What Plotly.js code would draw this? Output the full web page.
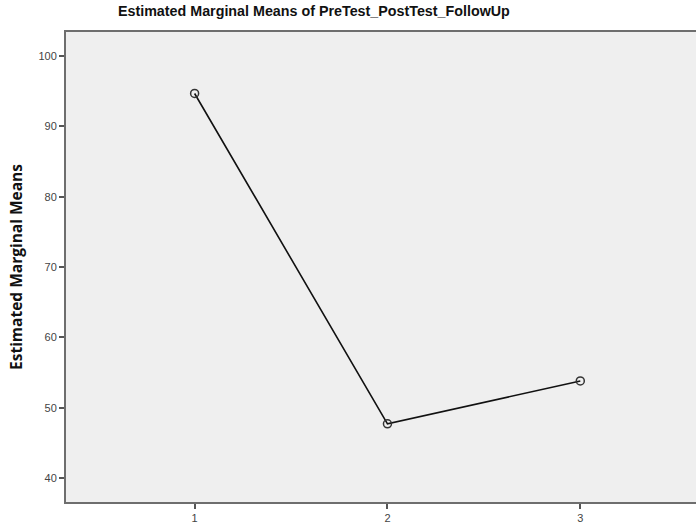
<!DOCTYPE html>
<html>
<head>
<meta charset="utf-8">
<script src="https://cdn.plot.ly/plotly-3.0.1.min.js"></script>
<style>html,body{margin:0;padding:0;background:#fff;}#chart{width:696px;height:523px;}</style>
</head>
<body>
<div id="chart"></div>
<script>
var levels = [1, 2, 3];
var means = [94.67, 47.7, 53.8];
var yTicks = [40, 50, 60, 70, 80, 90, 100];
var chartTitle = "Estimated Marginal Means of PreTest_PostTest_FollowUp";
var yTitle = "Estimated Marginal Means";

var trace = {
  x: levels,
  y: means,
  type: "scatter",
  mode: "lines+markers",
  line: {color: "#111111", width: 1.6},
  marker: {symbol: "circle-open", size: 8, color: "#333333", line: {width: 1.5, color: "#333333"}},
  hoverinfo: "skip"
};

var layout = {
  width: 696,
  height: 523,
  margin: {l: 66, r: 0, t: 32, b: 21, pad: 0},
  paper_bgcolor: "#ffffff",
  plot_bgcolor: "#efefef",
  showlegend: false,
  title: {
    text: "<b>" + chartTitle + "</b>",
    font: {family: "Liberation Sans, Arial, sans-serif", size: 14.3, color: "#111111"},
    xref: "container", x: 0.451, xanchor: "center",
    yref: "container", y: 0.979, yanchor: "middle"
  },
  xaxis: {
    range: [0.333, 3.60],
    tickvals: levels,
    ticktext: levels.map(String),
    showgrid: false,
    zeroline: false,
    showline: true,
    mirror: true,
    linecolor: "#6e6e6e",
    linewidth: 2,
    ticks: "outside",
    ticklen: 5,
    tickwidth: 2,
    tickcolor: "#555555",
    tickfont: {family: "Liberation Sans, Arial, sans-serif", size: 11, color: "#444444"}
  },
  yaxis: {
    range: [36.59, 103.41],
    tickvals: yTicks,
    ticktext: yTicks.map(String),
    showgrid: false,
    zeroline: false,
    showline: true,
    linecolor: "#6e6e6e",
    linewidth: 2,
    ticks: "outside",
    ticklen: 5,
    tickwidth: 2,
    tickcolor: "#555555",
    tickfont: {family: "Liberation Sans, Arial, sans-serif", size: 11, color: "#444444"},
    title: {
      text: "<b>" + yTitle + "</b>",
      font: {family: "Open Sans, sans-serif", size: 15.5, color: "#111111"},
      standoff: 12
    }
  }
};

Plotly.newPlot("chart", [trace], layout, {displayModeBar: false, staticPlot: true});
</script>
</body>
</html>
